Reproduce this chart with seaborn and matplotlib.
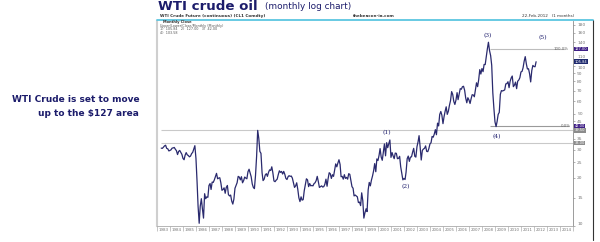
import numpy as np
import pandas as pd
import matplotlib
matplotlib.use("Agg")
import matplotlib.pyplot as plt
import seaborn as sns
import matplotlib.dates as mdates
from matplotlib.lines import Line2D
from matplotlib.ticker import FixedLocator, NullLocator, FixedFormatter

# ---------------- data (monthly closes, Apr 1983 - Feb 2012) ----------------
close_1983 = [30.6, 30.5, 31.0, 31.6, 31.9, 30.5, 30.3, 29.4, 29.6]
close_1984 = [29.9, 30.6, 30.7, 30.9, 30.1, 29.5, 27.9, 29.2, 29.6, 28.8, 28.0, 26.4]
close_1985 = [25.9, 27.6, 28.7, 27.8, 27.5, 27.0, 27.3, 28.3, 28.8, 30.3, 31.7, 26.3]
close_1986 = [18.8, 13.3, 10.4, 13.3, 14.8, 12.8, 11.2, 15.9, 14.8, 15.2, 15.1, 17.9]
close_1987 = [18.4, 16.9, 18.8, 18.7, 19.4, 20.3, 21.3, 19.7, 19.9, 20.0, 18.6, 16.7]
close_1988 = [16.9, 17.3, 16.0, 17.4, 17.9, 15.7, 15.4, 15.6, 14.3, 13.7, 14.7, 17.2]
close_1989 = [17.9, 18.6, 20.4, 20.2, 19.4, 20.3, 18.6, 19.2, 20.2, 19.9, 19.7, 21.8]
close_1990 = [22.6, 21.5, 20.3, 18.3, 17.4, 17.1, 20.7, 27.3, 39.5, 35.2, 29.2, 28.4]
close_1991 = [21.5, 19.2, 19.6, 20.8, 21.2, 20.4, 21.6, 22.4, 22.2, 23.4, 21.5, 19.1]
close_1992 = [18.9, 19.3, 19.6, 20.9, 22.1, 21.6, 21.9, 21.1, 21.9, 21.0, 19.8, 19.5]
close_1993 = [20.3, 20.6, 20.4, 20.5, 19.9, 18.6, 17.4, 17.8, 18.6, 16.9, 15.0, 14.2]
close_1994 = [15.2, 14.5, 14.6, 16.6, 18.1, 19.7, 19.4, 17.6, 18.4, 17.8, 17.9, 17.8]
close_1995 = [18.4, 18.6, 19.2, 20.4, 18.9, 17.4, 17.6, 17.8, 17.5, 17.6, 18.2, 19.6]
close_1996 = [17.7, 19.7, 21.5, 21.2, 19.8, 20.9, 20.4, 22.3, 24.4, 23.4, 24.7, 25.9]
close_1997 = [24.2, 20.3, 20.4, 19.6, 20.9, 19.8, 20.1, 19.6, 21.2, 21.0, 19.2, 17.6]
close_1998 = [17.2, 15.4, 15.6, 15.4, 15.2, 14.0, 14.1, 13.4, 16.1, 14.4, 11.2, 12.1]
close_1999 = [12.8, 12.3, 16.8, 18.7, 17.8, 19.3, 20.5, 22.1, 24.5, 21.8, 26.2, 25.6]
close_2000 = [27.6, 30.4, 26.9, 25.7, 29.0, 32.5, 27.4, 33.1, 30.8, 32.7, 34.4, 26.8]
close_2001 = [28.7, 27.4, 26.3, 28.5, 28.4, 26.3, 26.4, 27.2, 23.4, 21.2, 19.4, 19.8]
close_2002 = [19.5, 21.7, 26.3, 27.3, 25.3, 26.9, 27.0, 28.9, 30.5, 27.2, 26.9, 31.2]
close_2003 = [33.5, 36.6, 31.0, 25.8, 29.6, 30.2, 30.5, 31.6, 29.2, 29.1, 30.4, 32.5]
close_2004 = [33.1, 36.2, 35.8, 37.4, 39.9, 37.1, 43.8, 42.1, 49.6, 51.8, 49.1, 43.5]
close_2005 = [48.2, 51.8, 55.4, 49.7, 52.0, 56.5, 60.6, 68.9, 66.2, 59.8, 57.3, 61.0]
close_2006 = [67.9, 61.4, 66.6, 71.9, 71.3, 73.9, 74.4, 70.3, 62.9, 58.7, 63.1, 61.1]
close_2007 = [58.1, 62.0, 65.9, 65.7, 64.0, 70.7, 78.2, 74.0, 81.7, 94.5, 88.7, 96.0]
close_2008 = [91.8, 101.8, 101.6, 113.5, 127.4, 140.0, 124.1, 115.5, 100.6, 67.8, 54.4, 44.6]
close_2009 = [41.7, 44.8, 49.7, 51.1, 66.3, 69.9, 69.5, 70.0, 70.6, 77.0, 77.3, 79.4]
close_2010 = [72.9, 79.7, 83.8, 86.2, 74.0, 75.6, 79.0, 71.9, 80.0, 81.4, 84.1, 91.4]
close_2011 = [92.2, 97.0, 106.7, 113.9, 102.7, 95.4, 95.7, 88.8, 79.2, 93.2, 100.4, 98.8]
close_2012 = [98.5, 105.84]

years = list(range(1983, 2015))
year_labels = [str(y) for y in years]
y_ticks = [10, 15, 20, 25, 30, 35, 45, 50, 60, 70, 80, 90, 100, 110, 140, 160, 180]

# levels drawn on chart
level_100 = 127.0
level_low = 42.0
level_1990 = 39.5
level_w1 = 33.0
last_close = 105.84

wave_labels = ["(1)", "(2)", "(3)", "(4)", "(5)"]
wave_dates = ["2000-09-15", "2002-03-01", "2008-06-01", "2009-03-01", "2012-09-01"]
wave_values = [38.5, 17.7, 155.0, 36.0, 150.0]

all_close = (close_1983 + close_1984 + close_1985 + close_1986 + close_1987 + close_1988 +
             close_1989 + close_1990 + close_1991 + close_1992 + close_1993 + close_1994 +
             close_1995 + close_1996 + close_1997 + close_1998 + close_1999 + close_2000 +
             close_2001 + close_2002 + close_2003 + close_2004 + close_2005 + close_2006 +
             close_2007 + close_2008 + close_2009 + close_2010 + close_2011 + close_2012)
dates = pd.date_range("1983-04-30", periods=len(all_close), freq="ME")
df = pd.DataFrame({"date": dates, "close": all_close})

# ---------------- style ----------------
sns.set_theme(style="white")
plt.rcParams["font.family"] = ["DejaVu Sans"]

NAVY = "#1c1c6b"
LINE = "#2a2a6e"
PURPLE = "#3f1f86"

W, H = 600, 242
fig = plt.figure(figsize=(6.0, 2.42), dpi=100)
fig.patch.set_facecolor("white")

ax = fig.add_axes([157 / W, 16 / H, 416 / W, 205 / H])
ax.set_facecolor("white")

sns.lineplot(data=df, x="date", y="close", ax=ax, color=LINE, linewidth=0.9)

ax.set_yscale("log")
ax.set_ylim(10, 190)
x0 = pd.Timestamp("1983-01-01")
x1 = pd.Timestamp("2015-01-01")
ax.set_xlim(x0, x1)
ax.set_xlabel("")
ax.set_ylabel("")

# horizontal reference lines
ax.hlines(level_1990, pd.Timestamp("1983-05-01"), x1, color="#c9c9c9", lw=0.8, zorder=1)
ax.hlines(level_w1, pd.Timestamp("1983-05-01"), x1, color="#c9c9c9", lw=0.8, zorder=1)
ax.hlines(level_100, pd.Timestamp("2008-08-01"), pd.Timestamp("2014-06-01"), color="#bdbdbd", lw=0.8, zorder=1)
ax.hlines(level_low, pd.Timestamp("2008-08-01"), pd.Timestamp("2014-09-01"), color="#9a9a9a", lw=0.8, zorder=1)
ax.text(0.99, level_100, "100.0%", transform=ax.get_yaxis_transform(), ha="right", va="center",
        fontsize=2.8, color="#666666")
ax.text(0.995, level_low, "0.0%", transform=ax.get_yaxis_transform(), ha="right", va="center",
        fontsize=2.8, color="#666666")

# wave labels
for lab, d, v in zip(wave_labels, wave_dates, wave_values):
    ax.text(pd.Timestamp(d), v, lab, ha="center", va="center", fontsize=4.2,
            color=NAVY, family=["DejaVu Serif"])

# y axis on right
ax.yaxis.tick_right()
ax.yaxis.set_major_locator(FixedLocator(y_ticks))
ax.yaxis.set_major_formatter(FixedFormatter([str(t) for t in y_ticks]))
ax.yaxis.set_minor_locator(NullLocator())
ax.tick_params(axis="y", which="major", right=True, left=False, length=1.5, width=0.4,
               colors="#777777", labelsize=3.2, pad=1.5)
ylabels = ax.get_yticklabels()
ylabels[0].set_va("bottom")
ylabels[y_ticks.index(100)].set_va("top")
ylabels[y_ticks.index(110)].set_va("bottom")

# x axis: year boxes
mid_years = [pd.Timestamp(f"{y}-07-01") for y in years]
bounds = [pd.Timestamp(f"{y}-01-01") for y in years] + [x1]
ax.xaxis.set_major_locator(FixedLocator(mdates.date2num(mid_years)))
ax.xaxis.set_major_formatter(FixedFormatter(year_labels))
ax.xaxis.set_minor_locator(FixedLocator(mdates.date2num(bounds)))
ax.tick_params(axis="x", which="major", length=0, labelsize=2.9, colors="#777777", pad=1.5)
ax.tick_params(axis="x", which="minor", bottom=True, length=3.5, width=0.4, color="#999999",
               direction="out")

ax.spines["top"].set_visible(False)
ax.spines["left"].set_color("#cfcfcf")
ax.spines["left"].set_linewidth(1.5)
ax.spines["bottom"].set_color("#aaaaaa")
ax.spines["bottom"].set_linewidth(0.6)
ax.spines["right"].set_color("#8c8c8c")
ax.spines["right"].set_linewidth(0.6)

# highlighted value boxes on the right axis
boxes = [(level_100, "127.00", PURPLE), (last_close, "105.84", "#1f2a6e"),
         (level_low, "42.00", PURPLE), (level_1990, "39.50", "#8c8c8c"), (level_w1, "33.00", "#8c8c8c")]
for val, txt, col in boxes:
    ax.text(1.004, val, txt, transform=ax.get_yaxis_transform(), ha="left", va="center",
            fontsize=2.6, color="white", clip_on=False, zorder=5,
            bbox=dict(boxstyle="square,pad=0.1", fc=col, ec="none"))

# outer frame line at right
fig.add_artist(Line2D([593 / W, 593 / W], [2 / H, 222 / H], color="#333333", lw=0.8))

# header
fig.add_artist(Line2D([157 / W, 593 / W], [1 - 19.5 / H, 1 - 19.5 / H], color="#5cc6e0", lw=1.3))
fig.text(160 / W, 1 - 16 / H, "WTI Crude Future (continuous) (CL1 Comdty)", fontsize=3.0,
         fontweight="bold", color="#333333", va="center")
fig.text(353 / W, 1 - 16 / H, "thebeacon-ia.com", fontsize=3.0, fontweight="bold",
         color="#333333", va="center")
fig.text(522 / W, 1 - 16 / H, "22-Feb-2012   (1 months)", fontsize=3.0, color="#333333", va="center")
fig.text(163 / W, 1 - 22.5 / H, "Monthly Close", fontsize=2.6, fontweight="bold", color="#333333",
         va="center")
fig.text(160 / W, 1 - 26.5 / H, "Upper/Lower/Close/Monthly (Monthly)", fontsize=2.4, color="#555555",
         va="center")
fig.text(160 / W, 1 - 29.5 / H, "1)  105.84   2)  127.00   3)  42.00", fontsize=2.4, color="#555555",
         va="center")
fig.text(160 / W, 1 - 32.5 / H, "4)  103.58", fontsize=2.4, color="#555555", va="center")

# title
fig.text(158 / W, 1 - 6.5 / H, "WTI crude oil", fontsize=9.6, fontweight="bold", color=NAVY, va="center")
fig.text(265 / W, 1 - 6.5 / H, "(monthly log chart)", fontsize=6.4, color=NAVY, va="center")

# left comment
fig.text(140 / W, 1 - 99.5 / H, "WTI Crude is set to move", fontsize=6.5, fontweight="bold",
         color=NAVY, ha="right", va="center")
fig.text(139 / W, 1 - 113 / H, "up to the $127 area", fontsize=6.5, fontweight="bold",
         color=NAVY, ha="right", va="center")

fig.savefig("out.png", dpi=100, facecolor="white")
